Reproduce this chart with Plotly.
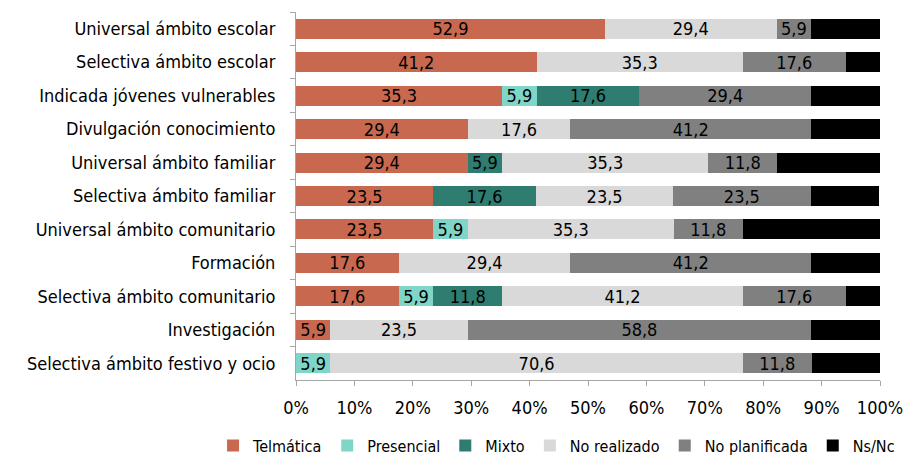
import plotly.graph_objects as go

categories = [
    "Universal ámbito escolar",
    "Selectiva ámbito escolar",
    "Indicada jóvenes vulnerables",
    "Divulgación conocimiento",
    "Universal ámbito familiar",
    "Selectiva ámbito familiar",
    "Universal ámbito comunitario",
    "Formación",
    "Selectiva ámbito comunitario",
    "Investigación",
    "Selectiva ámbito festivo y ocio",
]

telematica      = [52.9, 41.2, 35.3, 29.4, 29.4, 23.5, 23.5, 17.6, 17.6, 5.9, 0]
presencial      = [0, 0, 5.9, 0, 0, 0, 5.9, 0, 5.9, 0, 5.9]
mixto           = [0, 0, 17.6, 0, 5.9, 17.6, 0, 0, 11.8, 0, 0]
no_realizado    = [29.4, 35.3, 0, 17.6, 35.3, 23.5, 35.3, 29.4, 41.2, 23.5, 70.6]
no_planificada  = [5.9, 17.6, 29.4, 41.2, 11.8, 23.5, 11.8, 41.2, 17.6, 58.8, 11.8]
ns_nc           = [11.8, 5.9, 11.8, 11.8, 17.6, 11.8, 23.5, 11.8, 5.9, 11.8, 11.8]

tick_vals = [0, 10, 20, 30, 40, 50, 60, 70, 80, 90, 100]
tick_text = ["0%", "10%", "20%", "30%", "40%", "50%", "60%", "70%", "80%", "90%", "100%"]

series = [
    ("Telmática", telematica, "#C8684F"),
    ("Presencial", presencial, "#7FD6C8"),
    ("Mixto", mixto, "#2E7D70"),
    ("No realizado", no_realizado, "#D9D9D9"),
    ("No planificada", no_planificada, "#808080"),
    ("Ns/Nc", ns_nc, "#000000"),
]

FONT = "DejaVu Sans Condensed, sans-serif"

fig = go.Figure()
for name, vals, color in series:
    txt = [f"{v:.1f}".replace(".", ",") if v else "" for v in vals]
    fig.add_trace(go.Bar(
        y=categories, x=vals, name=name, orientation="h",
        marker=dict(color=color, line=dict(width=0)),
        text=txt, textposition="inside", insidetextanchor="middle",
        textangle=0, constraintext="none",
        textfont=dict(color="black", size=18, family=FONT),
        hoverinfo="x+y+name",
    ))

fig.update_layout(
    barmode="stack",
    bargap=0.4,
    width=909, height=452,
    margin=dict(l=288, r=37, t=4, b=80, autoexpand=False),
    paper_bgcolor="white", plot_bgcolor="white",
    font=dict(family=FONT, size=18, color="black"),
    separators=",.",
    showlegend=True,
    legend=dict(orientation="h", x=-0.142, xanchor="left",
                y=-0.178, yanchor="middle",
                font=dict(size=16), traceorder="normal", itemwidth=30,
                tracegroupgap=0),
    xaxis=dict(range=[0, 100], tickvals=tick_vals, ticktext=tick_text,
               showgrid=False, zeroline=False, showline=True, linecolor="#A6A6A6",
               ticks="outside", tickcolor="#A6A6A6", ticklen=5, tickfont=dict(size=18),
               ticklabelstandoff=6, automargin=False),
    yaxis=dict(autorange="reversed", showgrid=False, showline=True, linecolor="#A6A6A6",
               ticks="outside", tickson="boundaries", tickcolor="#A6A6A6", ticklen=5,
               tickfont=dict(size=18), ticklabelstandoff=16, automargin=False),
)

fig.write_html("out.html")
